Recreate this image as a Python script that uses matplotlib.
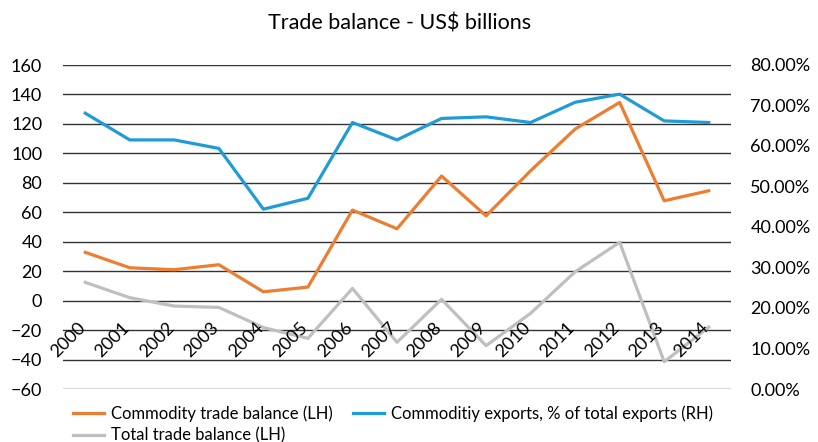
import matplotlib.pyplot as plt
from matplotlib.ticker import FuncFormatter

plt.rcParams['font.family'] = ['Lato', 'DejaVu Sans']

years = list(range(2000, 2015))
commodity_balance = [32.8, 22.3, 21.0, 24.4, 6.0, 9.2, 61.5, 48.8, 84.6,
                     57.6, 88.2, 116.5, 134.6, 67.8, 74.6]
total_balance = [12.4, 2.0, -3.7, -4.6, -18.3, -25.6, 8.3, -28.3, 0.9,
                 -30.6, -8.6, 19.6, 39.6, -41.5, -18.0]
commodity_share = [68.1, 61.5, 61.5, 59.4, 44.4, 47.1, 65.8, 61.5, 66.8,
                   67.2, 65.8, 70.8, 72.8, 66.2, 65.8]

orange = '#ED7D31'
blue = '#1F9BD8'
grey = '#BFBFBF'

fig = plt.figure(figsize=(8.18, 4.42), dpi=100)
ax = fig.add_axes([63 / 818, 1 - 389 / 442, (731 - 63) / 818, (389 - 65) / 442])
ax2 = ax.twinx()

l1, = ax.plot(years, commodity_balance, color=orange, lw=2.3,
              label='Commodity trade balance (LH)', zorder=3)
l3, = ax.plot(years, total_balance, color=grey, lw=2.3,
              label='Total trade balance (LH)', zorder=2)
l2, = ax2.plot(years, [v / 100 for v in commodity_share], color=blue, lw=2.3,
               label='Commoditiy exports, % of total exports (RH)')

ax.set_xlim(1999.5, 2014.5)
ax.set_ylim(-60, 160)
ax.set_yticks(range(-60, 161, 20))
ax.grid(axis='y', color='#333333', lw=1.0)
ax.set_axisbelow(True)
ax.set_xticks([])
ax.tick_params(axis='y', length=0, pad=15, labelsize=13)

ax2.set_ylim(0, 0.8)
ax2.set_yticks([i / 10 for i in range(9)])
ax2.yaxis.set_major_formatter(FuncFormatter(lambda v, p: f'{v:.2%}'))
ax2.tick_params(axis='y', length=0, pad=14, labelsize=13)

for a in (ax, ax2):
    for s in a.spines.values():
        s.set_visible(False)

# year labels sit on the zero line
for yr in years:
    ax.annotate(str(yr), xy=(yr, 0), xytext=(-12.5, -28), textcoords='offset points',
                ha='center', va='center', rotation=45, fontsize=13, zorder=4)

fig.text(0.489, 0.946, 'Trade balance - US$ billions', ha='center', va='center',
         fontsize=15.5)

fig.legend(handles=[l1, l3, l2], loc='upper left', bbox_to_anchor=(0.089, 0.082),
           ncol=2, frameon=False, fontsize=12, handlelength=1.86,
           handletextpad=0.42, columnspacing=1.25, labelspacing=0.3,
           borderaxespad=0, borderpad=0)

fig.savefig('out.png', dpi=100)
